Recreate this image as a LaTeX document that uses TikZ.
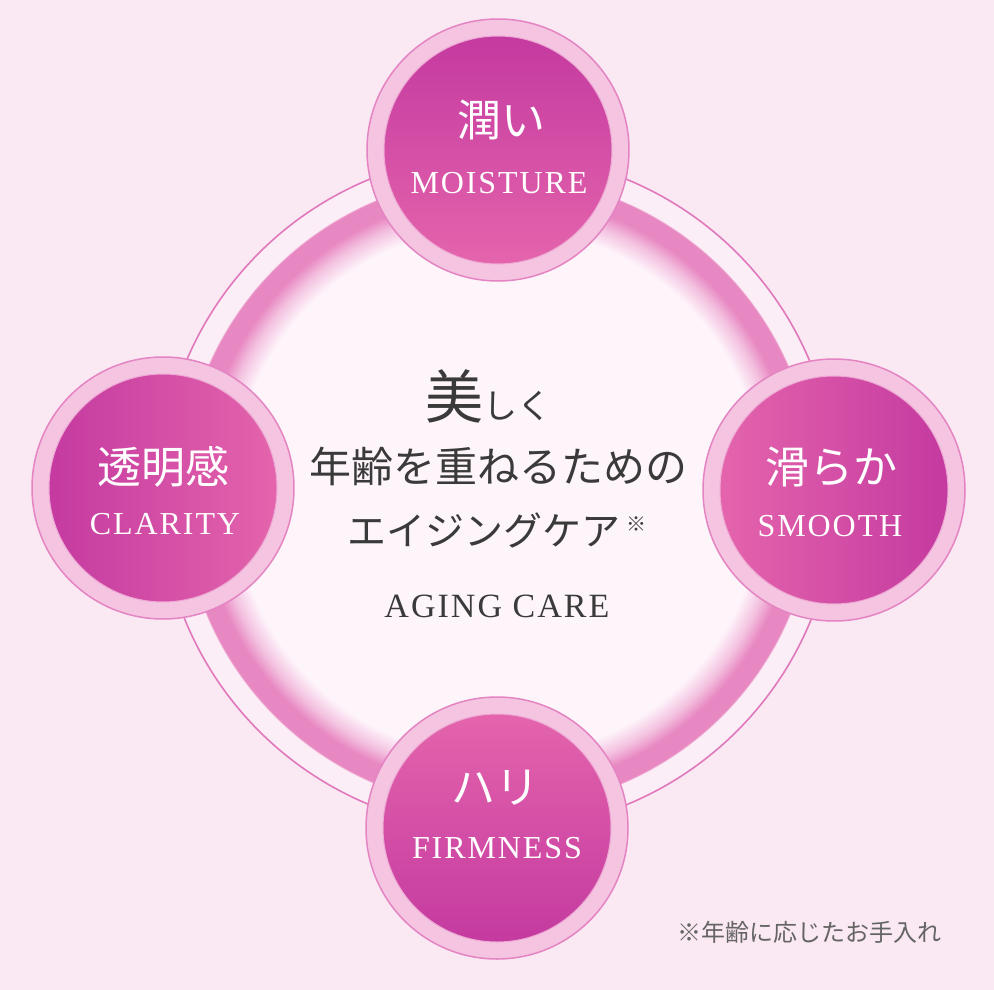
\documentclass[tikz,border=0pt]{standalone}
\usepackage{fontspec}
\setmainfont{Liberation Serif}
\newfontfamily\jpfont{Noto Sans CJK JP}
\newfontfamily\latsp[LetterSpace=6]{Liberation Serif}
\definecolor{bgpink}{RGB}{250,232,243}
\definecolor{innerwhite}{RGB}{254,245,251}
\definecolor{bandpink}{RGB}{232,136,194}
\definecolor{bandmid}{RGB}{243,192,223}
\definecolor{gapband}{RGB}{252,238,246}
\definecolor{ringline}{RGB}{225,120,188}
\definecolor{satring}{RGB}{244,196,225}
\definecolor{satline}{RGB}{228,132,194}
\definecolor{satinline}{RGB}{238,168,212}
\definecolor{magdark}{RGB}{196,58,160}
\definecolor{maglight}{RGB}{228,100,172}
\definecolor{txtdark}{RGB}{58,58,58}
\definecolor{notegray}{RGB}{100,100,100}
\pgfdeclareradialshading{ringglow}{\pgfpoint{0bp}{0bp}}{color(0bp)=(innerwhite); color(19.6bp)=(innerwhite); color(21bp)=(bandmid); color(22bp)=(bandpink); color(23.35bp)=(bandpink); color(23.45bp)=(gapband); color(25bp)=(gapband); color(50bp)=(gapband)}
\begin{document}
\begin{tikzpicture}[x=1pt,y=-1pt,
  satouter/.style={circle, minimum size=262pt, inner sep=0pt, fill=satring, draw=satline, line width=1.5pt},
  satinner/.style={circle, minimum size=228pt, inner sep=0pt, draw=satinline, line width=1pt},
  jplab/.style={text=white, font=\jpfont\fontsize{44}{48}\selectfont, inner sep=0pt},
  enlab/.style={text=white, font=\latsp\fontsize{32}{34}\selectfont, inner sep=0pt},
  midjp/.style={text=txtdark, inner sep=0pt, anchor=base},
]
\fill[bgpink] (0,0) rectangle (994,990);
\useasboundingbox (0,0) rectangle (994,990);
\coordinate (C) at (498,492);
\fill[shading=ringglow] (C) circle (338pt);
\draw[ringline, line width=1.6pt] (C) circle (338pt);
% satellites
\node[satouter] (topo) at (498,150) {};
\node[satinner, top color=magdark, bottom color=maglight] (topi) at (498,150) {};
\node[satouter] (lefto) at (163,488) {};
\node[satinner, left color=magdark, right color=maglight] (lefti) at (163,488) {};
\node[satouter] (righto) at (834,490) {};
\node[satinner, left color=maglight, right color=magdark] (righti) at (834,490) {};
\node[satouter] (boto) at (497,828) {};
\node[satinner, top color=maglight, bottom color=magdark] (boti) at (497,828) {};
% satellite labels
\node[jplab] (t1) at (501,120) {潤い};
\node[enlab] (t2) at (499,183) {MOISTURE};
\node[jplab] (l1) at (163,467) {透明感};
\node[enlab] (l2) at (165,524) {CLARITY};
\node[jplab] (r1) at (831,467) {滑らか};
\node[enlab] (r2) at (830,526) {SMOOTH};
\node[jplab] (b1) at (495,788) {ハリ};
\node[enlab] (b2) at (497,848) {FIRMNESS};
% centre text
\node[midjp, font=\jpfont] (m1) at (488,418) {{\fontsize{58}{60}\selectfont 美}{\fontsize{34}{36}\selectfont しく}};
\node[midjp, font=\jpfont\fontsize{42}{44}\selectfont] (m2) at (498,482) {年齢を重ねるための};
\node[midjp, font=\jpfont\fontsize{39}{41}\selectfont] (m3) at (497,545) {エイジングケア\,\raisebox{14pt}{\fontsize{20}{22}\selectfont ※}};
\node[midjp, font=\latsp\fontsize{34}{36}\selectfont] (m4) at (497,617) {AGING CARE};
% footnote
\node[text=notegray, inner sep=0pt, anchor=base east, font=\jpfont\fontsize{24}{26}\selectfont] (note) at (942,941) {※年齢に応じたお手入れ};
\end{tikzpicture}
\end{document}
